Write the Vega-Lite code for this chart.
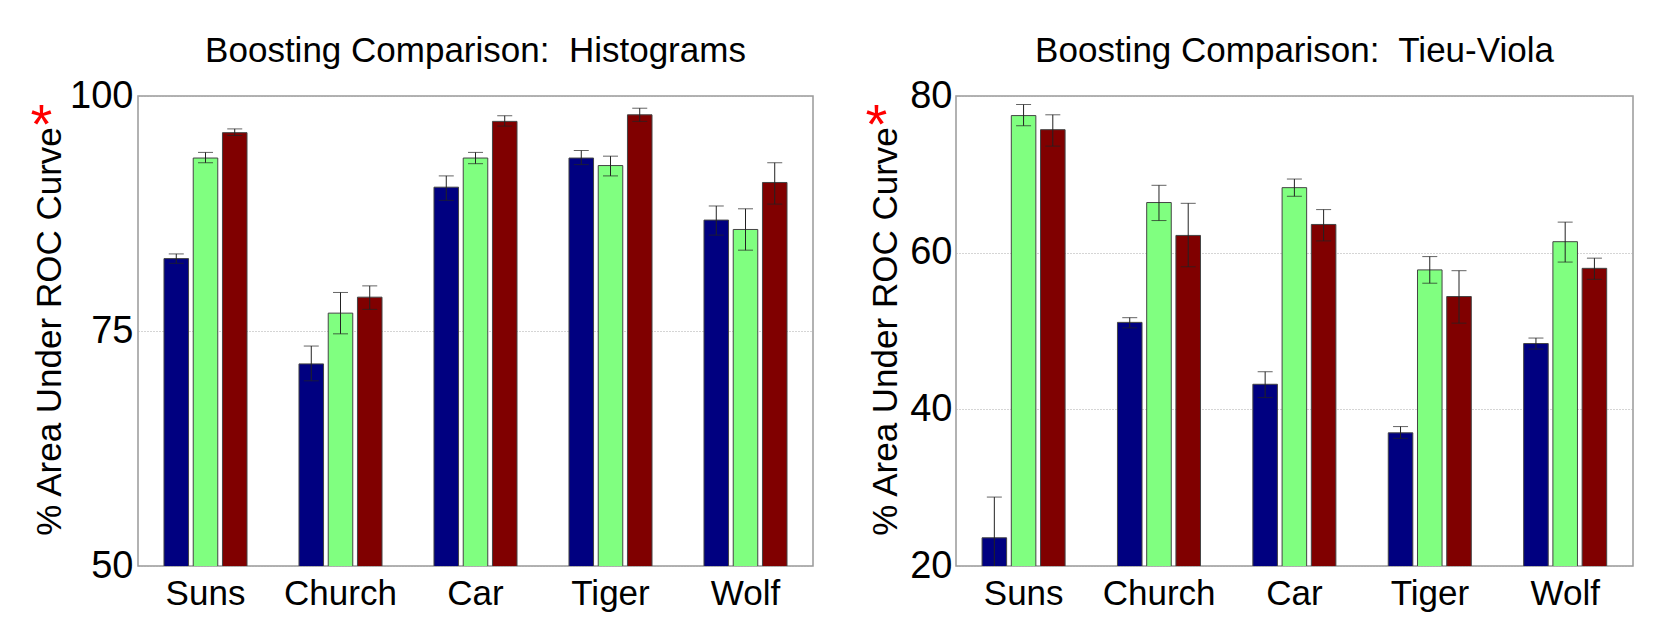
{
  "$schema": "https://vega.github.io/schema/vega-lite/v6.json",
  "background": "white",
  "padding": {"left": 29, "top": 33, "right": 5, "bottom": 5},
  "spacing": 50,
  "config": {
    "font": "Liberation Sans",
    "view": {"stroke": "#999999", "strokeWidth": 1.5},
    "axis": {
      "labelFont": "Liberation Sans",
      "labelFontSize": 38,
      "labelColor": "black",
      "titleFont": "Liberation Sans",
      "titleFontSize": 35,
      "titleFontWeight": "normal",
      "titleColor": "black",
      "gridColor": "#aaaaaa",
      "gridDash": [1, 2],
      "ticks": false,
      "domain": false
    },
    "title": {"font": "Liberation Sans", "fontSize": 35, "fontWeight": "normal", "color": "black", "anchor": "middle", "offset": 8}
  },
  "datasets": {
    "hist": [
      {"cat": "Suns", "method": "M1", "value": 82.7, "lo": 82.2, "hi": 83.2},
      {"cat": "Suns", "method": "M2", "value": 93.4, "lo": 92.9, "hi": 94.0},
      {"cat": "Suns", "method": "M3", "value": 96.1, "lo": 95.8, "hi": 96.5},
      {"cat": "Church", "method": "M1", "value": 71.5, "lo": 69.7, "hi": 73.4},
      {"cat": "Church", "method": "M2", "value": 76.9, "lo": 74.7, "hi": 79.1},
      {"cat": "Church", "method": "M3", "value": 78.6, "lo": 77.3, "hi": 79.8},
      {"cat": "Car", "method": "M1", "value": 90.3, "lo": 88.9, "hi": 91.5},
      {"cat": "Car", "method": "M2", "value": 93.4, "lo": 92.8, "hi": 94.0},
      {"cat": "Car", "method": "M3", "value": 97.3, "lo": 96.8, "hi": 97.9},
      {"cat": "Tiger", "method": "M1", "value": 93.4, "lo": 92.7, "hi": 94.2},
      {"cat": "Tiger", "method": "M2", "value": 92.6, "lo": 91.5, "hi": 93.6},
      {"cat": "Tiger", "method": "M3", "value": 98.0, "lo": 97.3, "hi": 98.7},
      {"cat": "Wolf", "method": "M1", "value": 86.8, "lo": 85.2, "hi": 88.3},
      {"cat": "Wolf", "method": "M2", "value": 85.8, "lo": 83.6, "hi": 88.0},
      {"cat": "Wolf", "method": "M3", "value": 90.8, "lo": 88.5, "hi": 92.9}
    ],
    "tv": [
      {"cat": "Suns", "method": "M1", "value": 23.6, "lo": 18.4, "hi": 28.8},
      {"cat": "Suns", "method": "M2", "value": 77.5, "lo": 76.2, "hi": 78.9},
      {"cat": "Suns", "method": "M3", "value": 75.7, "lo": 73.6, "hi": 77.6},
      {"cat": "Church", "method": "M1", "value": 51.1, "lo": 50.4, "hi": 51.7},
      {"cat": "Church", "method": "M2", "value": 66.4, "lo": 64.1, "hi": 68.6},
      {"cat": "Church", "method": "M3", "value": 62.2, "lo": 58.2, "hi": 66.3},
      {"cat": "Car", "method": "M1", "value": 43.2, "lo": 41.5, "hi": 44.8},
      {"cat": "Car", "method": "M2", "value": 68.3, "lo": 67.2, "hi": 69.4},
      {"cat": "Car", "method": "M3", "value": 63.6, "lo": 61.5, "hi": 65.5},
      {"cat": "Tiger", "method": "M1", "value": 37.0, "lo": 36.3, "hi": 37.8},
      {"cat": "Tiger", "method": "M2", "value": 57.8, "lo": 56.1, "hi": 59.5},
      {"cat": "Tiger", "method": "M3", "value": 54.4, "lo": 51.0, "hi": 57.7},
      {"cat": "Wolf", "method": "M1", "value": 48.4, "lo": 47.7, "hi": 49.1},
      {"cat": "Wolf", "method": "M2", "value": 61.4, "lo": 58.8, "hi": 63.9},
      {"cat": "Wolf", "method": "M3", "value": 58.0, "lo": 56.6, "hi": 59.3}
    ]
  },
  "hconcat": [
    {
      "width": 675,
      "height": 470,
      "title": {"text": "Boosting Comparison:\u00a0 Histograms"},
      "data": {"name": "hist"},
      "encoding": {
        "x": {"field": "cat", "type": "nominal", "sort": ["Suns", "Church", "Car", "Tiger", "Wolf"],
          "scale": {"paddingInner": 0.385, "paddingOuter": 0.1925},
          "axis": {"title": null, "labelAngle": 0, "labelPadding": 10, "labelFontSize": 35, "grid": false}},
        "xOffset": {"field": "method", "type": "nominal", "sort": ["M1", "M2", "M3"], "scale": {"paddingInner": 0.16}}
      },
      "layer": [
        {
          "mark": {"type": "bar", "stroke": "#444444", "strokeWidth": 1, "clip": true},
          "encoding": {
            "y": {"field": "value", "type": "quantitative", "scale": {"domain": [50, 100], "nice": false, "zero": false},
              "axis": {"title": "% Area Under ROC Curve", "values": [50, 75, 100], "labelPadding": 5, "titlePadding": 2}},
            "color": {"field": "method", "type": "nominal", "scale": {"domain": ["M1", "M2", "M3"], "range": ["#000080", "#80ff80", "#800000"]}, "legend": null}
          }
        },
        {
          "mark": {"type": "rule", "color": "#222222", "strokeWidth": 1, "clip": true},
          "encoding": {
            "y": {"field": "lo", "type": "quantitative",
              "axis": {"orient": "left", "title": "*", "titleColor": "red", "titleFontSize": 56, "titleAngle": 0, "titleX": -97, "titleY": 58, "labels": false, "grid": false}},
            "y2": {"field": "hi"}
          }
        },
        {
          "mark": {"type": "tick", "color": "#222222", "size": 15, "thickness": 1, "orient": "horizontal", "clip": true},
          "encoding": {"y": {"field": "lo", "type": "quantitative", "axis": null}}
        },
        {
          "mark": {"type": "tick", "color": "#222222", "size": 15, "thickness": 1, "orient": "horizontal", "clip": true},
          "encoding": {"y": {"field": "hi", "type": "quantitative", "axis": null}}
        }
      ],
      "resolve": {"scale": {"y": "shared"}, "axis": {"y": "independent"}}
    },
    {
      "width": 677,
      "height": 470,
      "title": {"text": "Boosting Comparison:\u00a0 Tieu-Viola"},
      "data": {"name": "tv"},
      "encoding": {
        "x": {"field": "cat", "type": "nominal", "sort": ["Suns", "Church", "Car", "Tiger", "Wolf"],
          "scale": {"paddingInner": 0.385, "paddingOuter": 0.1925},
          "axis": {"title": null, "labelAngle": 0, "labelPadding": 10, "labelFontSize": 35, "grid": false}},
        "xOffset": {"field": "method", "type": "nominal", "sort": ["M1", "M2", "M3"], "scale": {"paddingInner": 0.16}}
      },
      "layer": [
        {
          "mark": {"type": "bar", "stroke": "#444444", "strokeWidth": 1, "clip": true},
          "encoding": {
            "y": {"field": "value", "type": "quantitative", "scale": {"domain": [20, 80], "nice": false, "zero": false},
              "axis": {"title": "% Area Under ROC Curve", "values": [20, 40, 60, 80], "labelPadding": 4, "titlePadding": 6}},
            "color": {"field": "method", "type": "nominal", "scale": {"domain": ["M1", "M2", "M3"], "range": ["#000080", "#80ff80", "#800000"]}, "legend": null}
          }
        },
        {
          "mark": {"type": "rule", "color": "#222222", "strokeWidth": 1, "clip": true},
          "encoding": {
            "y": {"field": "lo", "type": "quantitative",
              "axis": {"orient": "left", "title": "*", "titleColor": "red", "titleFontSize": 56, "titleAngle": 0, "titleX": -80, "titleY": 58, "labels": false, "grid": false}},
            "y2": {"field": "hi"}
          }
        },
        {
          "mark": {"type": "tick", "color": "#222222", "size": 15, "thickness": 1, "orient": "horizontal", "clip": true},
          "encoding": {"y": {"field": "lo", "type": "quantitative", "axis": null}}
        },
        {
          "mark": {"type": "tick", "color": "#222222", "size": 15, "thickness": 1, "orient": "horizontal", "clip": true},
          "encoding": {"y": {"field": "hi", "type": "quantitative", "axis": null}}
        }
      ],
      "resolve": {"scale": {"y": "shared"}, "axis": {"y": "independent"}}
    }
  ]
}
